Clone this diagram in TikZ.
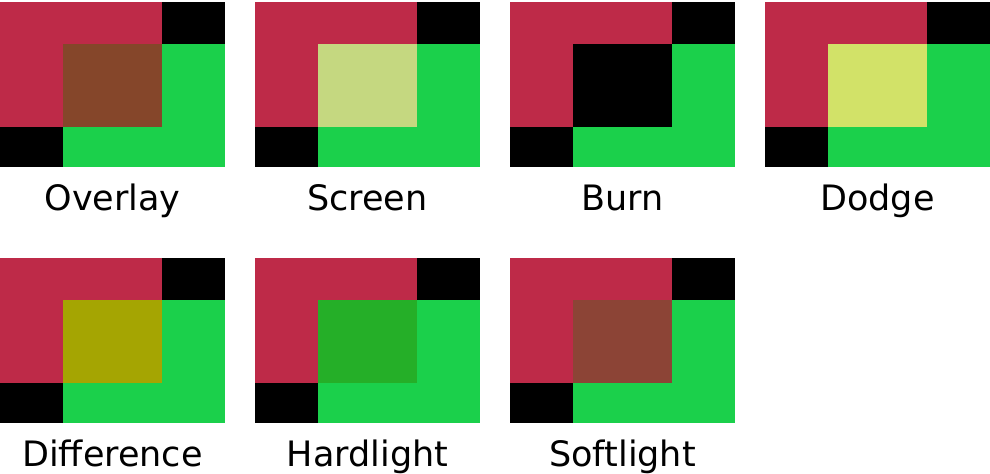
\documentclass[tikz,border=0pt]{standalone}
\usepackage{fontspec}
\setmainfont{DejaVu Sans}

% base layers
\definecolor{layerred}{RGB}{190,42,72}
\definecolor{layergreen}{RGB}{27,208,75}
% blended overlap of the two layers
\definecolor{mixoverlay}{RGB}{133,70,42}
\definecolor{mixscreen}{RGB}{197,216,128}
\definecolor{mixburn}{RGB}{0,0,0}
\definecolor{mixdodge}{RGB}{210,226,104}
\definecolor{mixdifference}{RGB}{165,165,2}
\definecolor{mixhardlight}{RGB}{37,175,40}
\definecolor{mixsoftlight}{RGB}{140,68,54}

\newcommand
    {\blendpanel}[5]
    {%
        % #1,#2 = top left corner, #3 = overlap colour, #4 = label, #5 = name
        \begin{scope}[shift={(#1,#2)}]
            \fill[black] (0,0) rectangle (225,165);
            \fill[layerred] (0,0) rectangle (162,125);
            \fill[layergreen] (63,42) rectangle (225,165);
            \fill[#3] (63,42) rectangle (162,125);
            \node (#5) at (112.5,208) [blendlabel] {#4};
        \end{scope}%
    }

\begin{document}
\begin{tikzpicture}[x=0.5pt,y=-0.5pt,
        blendlabel/.style={anchor=base,inner sep=0pt,font=\fontsize{17.5}{21}\selectfont}]
        \useasboundingbox (0,0) rectangle (990,473);

        % 1. Top row
        \blendpanel{0}{2}{mixoverlay}{Overlay}{overlay}
        \blendpanel{255}{2}{mixscreen}{Screen}{screen}
        \blendpanel{510}{2}{mixburn}{Burn}{burn}
        \blendpanel{765}{2}{mixdodge}{Dodge}{dodge}

        % 2. Bottom row
        \blendpanel{0}{258}{mixdifference}{Difference}{difference}
        \blendpanel{255}{258}{mixhardlight}{Hardlight}{hardlight}
        \blendpanel{510}{258}{mixsoftlight}{Softlight}{softlight}
    \end{tikzpicture}
\end{document}
